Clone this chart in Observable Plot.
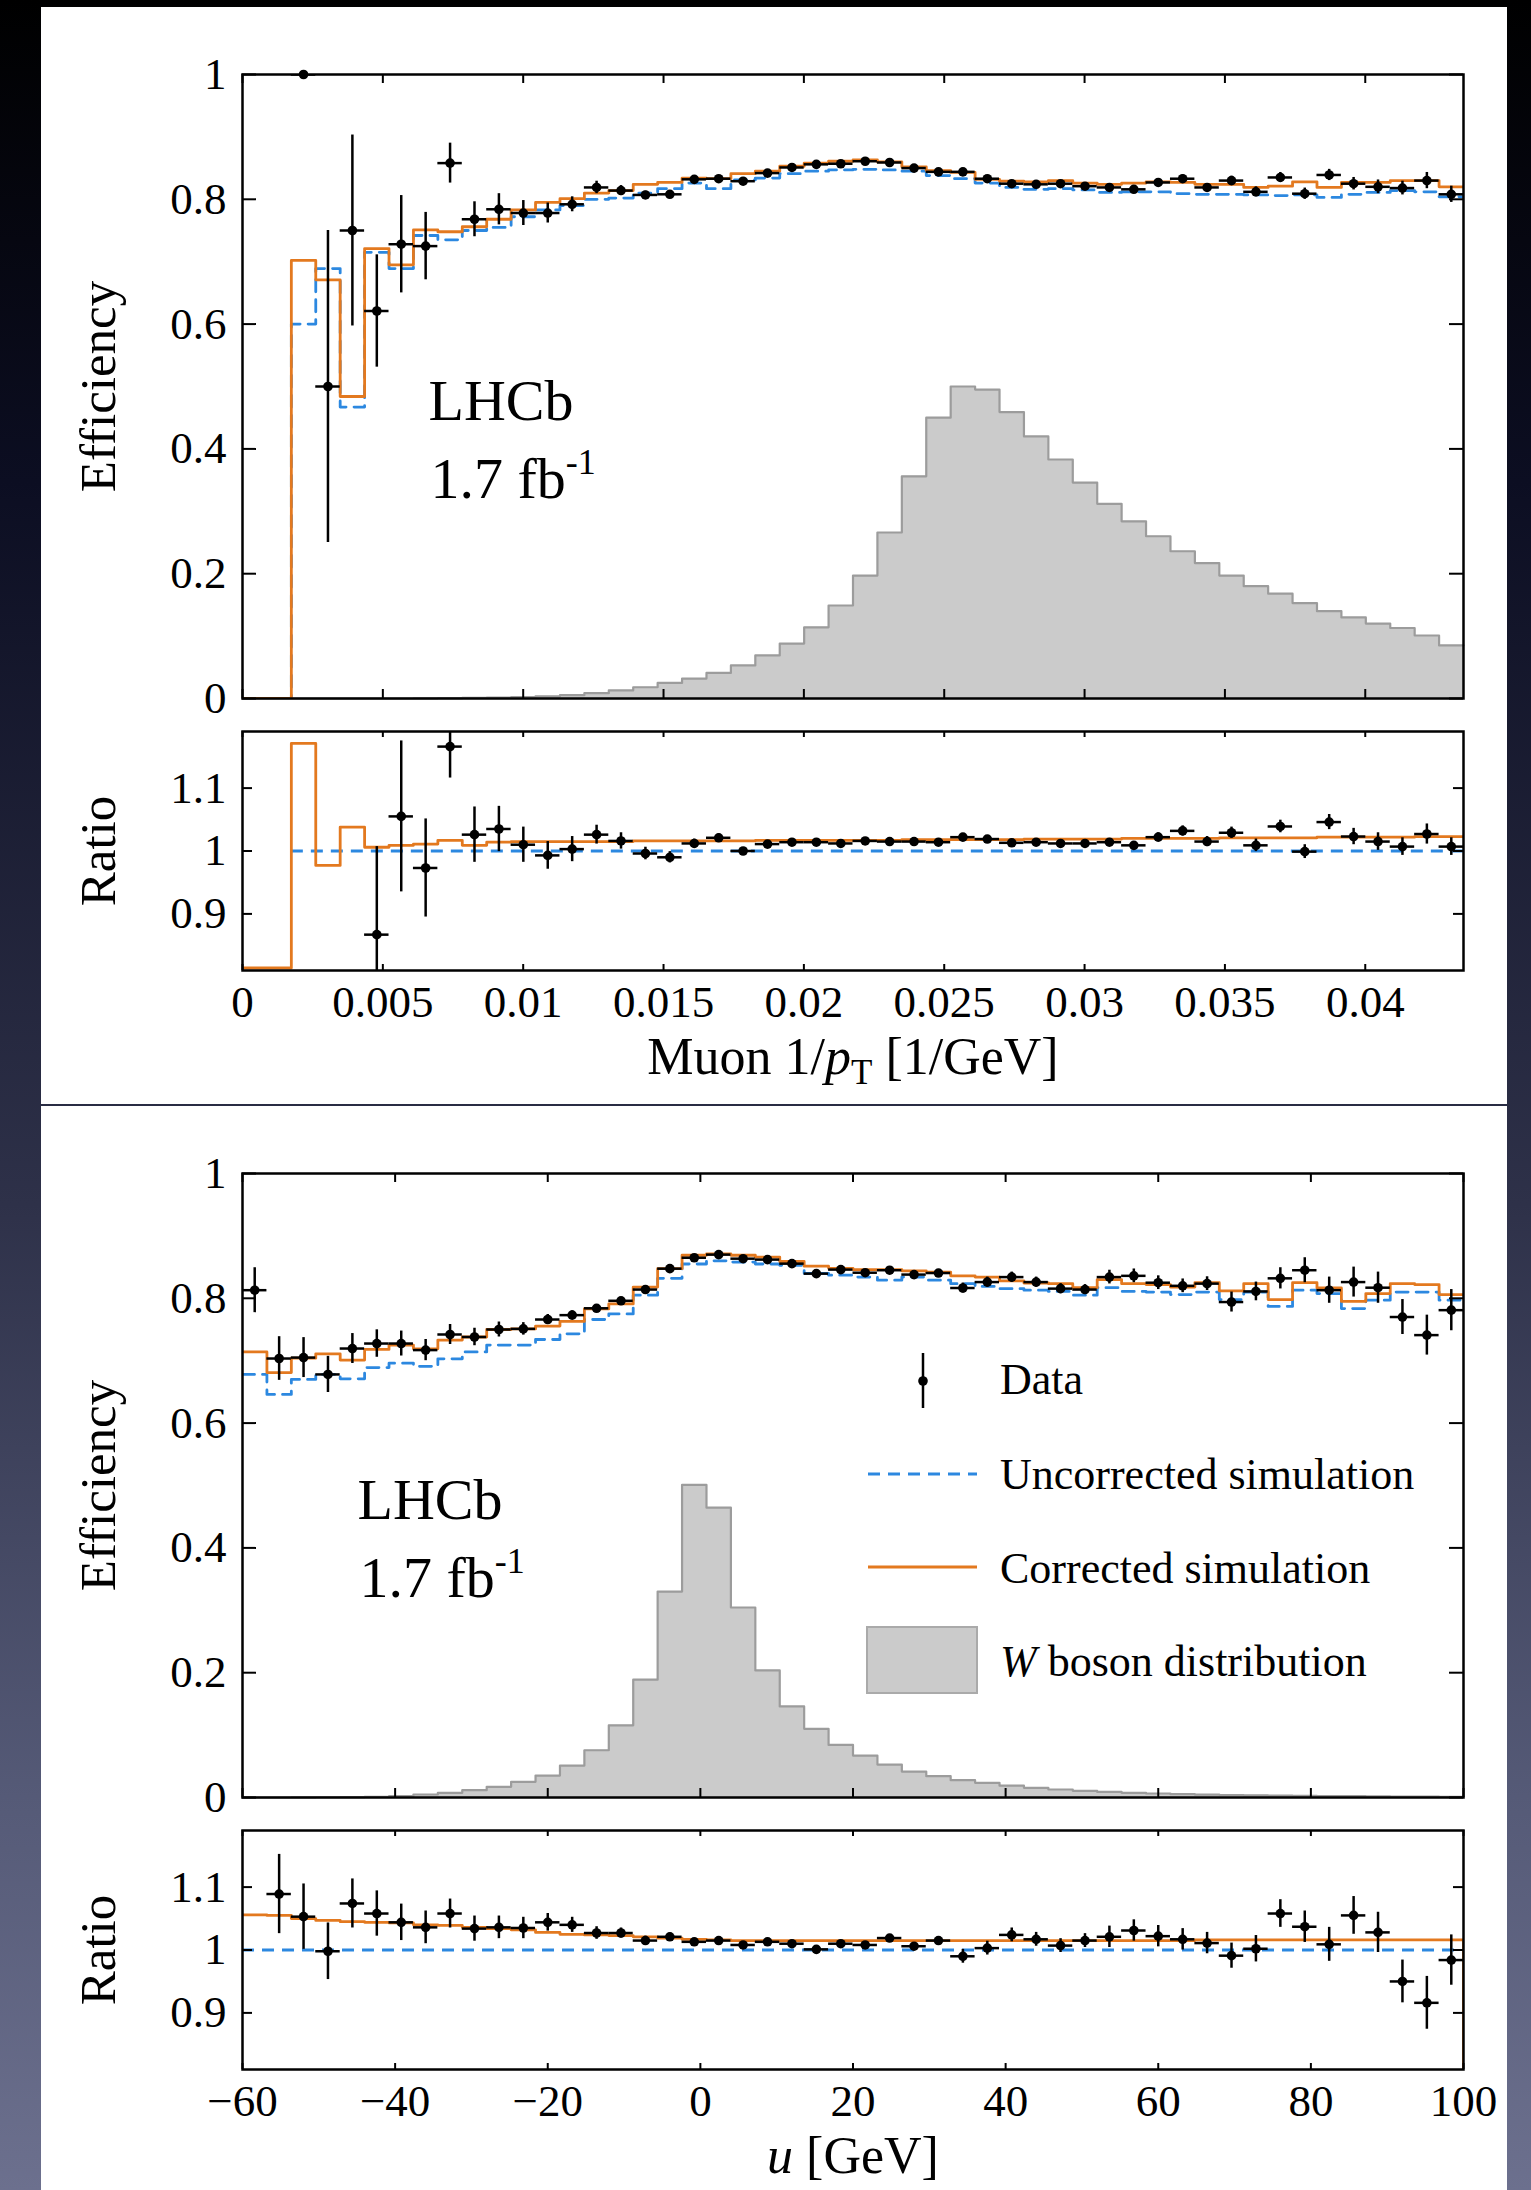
<!DOCTYPE html>
<html><head><meta charset="utf-8">
<script src="https://cdn.jsdelivr.net/npm/d3@7"></script>
<script src="https://cdn.jsdelivr.net/npm/@observablehq/plot@0.6"></script>
<style>
html,body{margin:0;padding:0;}
body{width:1531px;height:2190px;position:relative;overflow:hidden;
 background:linear-gradient(to bottom,#000000 0%,#0c0e22 22%,#2e3149 55%,#555a77 82%,#6c708e 100%);}
.panel{position:absolute;left:41px;width:1466px;background:#ffffff;}
.chart{position:absolute;left:0;}
</style></head><body>
<div class="panel" style="top:7px;height:1097px"></div>
<div class="panel" style="top:1106px;height:1084px"></div>
<script>
// ---------------- DATA ----------------
// Muon 1/pT panel: 50 bins from 0 to 0.0435 [1/GeV]
const muonEdges = [0,0.00087,0.00174,0.00261,0.00348,0.00435,0.00522,0.00609,0.00696,0.00783,0.0087,0.00957,0.01044,0.01131,0.01218,0.01305,0.01392,0.01479,0.01566,0.01653,0.0174,0.01827,0.01914,0.02001,0.02088,0.02175,0.02262,0.02349,0.02436,0.02523,0.0261,0.02697,0.02784,0.02871,0.02958,0.03045,0.03132,0.03219,0.03306,0.03393,0.0348,0.03567,0.03654,0.03741,0.03828,0.03915,0.04002,0.04089,0.04176,0.04263,0.0435];
const muonXTicks = [0,0.005,0.01,0.015,0.02,0.025,0.03,0.035,0.04];
const muonData = [null,null,1.0,0.50,0.75,0.621,0.728,0.725,0.858,0.768,0.784,0.778,0.778,0.792,0.819,0.814,0.807,0.808,0.832,0.833,0.829,0.842,0.851,0.856,0.857,0.861,0.859,0.850,0.844,0.844,0.833,0.825,0.824,0.825,0.821,0.819,0.816,0.827,0.833,0.819,0.830,0.812,0.835,0.809,0.839,0.825,0.820,0.818,0.830,0.808];
const muonDataErr = [0,0,0,0.25,0.153,0.09,0.078,0.054,0.032,0.028,0.025,0.02,0.016,0.012,0.01,0.008,0.006,0.005,0.004,0.004,0.003,0.003,0.003,0.003,0.003,0.003,0.003,0.003,0.003,0.003,0.003,0.003,0.003,0.003,0.003,0.003,0.003,0.005,0.006,0.006,0.007,0.008,0.008,0.009,0.009,0.01,0.011,0.011,0.013,0.013];
const muonUncorrected = [0,0,0.60,0.689,0.467,0.715,0.689,0.742,0.735,0.750,0.755,0.772,0.783,0.790,0.800,0.802,0.810,0.817,0.826,0.817,0.831,0.834,0.841,0.845,0.847,0.848,0.847,0.845,0.838,0.833,0.826,0.819,0.816,0.817,0.815,0.811,0.812,0.812,0.809,0.808,0.808,0.807,0.806,0.807,0.803,0.808,0.811,0.814,0.812,0.804];
const muonCorrected = [0,0,0.702,0.671,0.484,0.721,0.695,0.751,0.748,0.756,0.768,0.783,0.795,0.801,0.810,0.814,0.824,0.827,0.834,0.833,0.841,0.845,0.853,0.858,0.861,0.863,0.860,0.852,0.846,0.843,0.832,0.829,0.828,0.830,0.826,0.824,0.826,0.828,0.827,0.824,0.824,0.819,0.821,0.828,0.819,0.827,0.827,0.830,0.830,0.820];
const muonWdist = [0,0,0,0,0,0,0,0.0003,0.0006,0.001,0.0015,0.0022,0.0035,0.0053,0.0085,0.013,0.018,0.025,0.032,0.041,0.053,0.069,0.088,0.114,0.149,0.197,0.266,0.356,0.450,0.500,0.495,0.459,0.420,0.383,0.346,0.312,0.284,0.260,0.236,0.217,0.197,0.180,0.168,0.153,0.140,0.130,0.120,0.113,0.101,0.085];
const muonRatioData = [null,null,null,null,null,0.867,1.055,0.973,1.166,1.026,1.035,1.010,0.993,1.003,1.026,1.016,0.996,0.990,1.012,1.021,1.000,1.011,1.014,1.014,1.012,1.016,1.015,1.015,1.014,1.022,1.019,1.013,1.014,1.012,1.012,1.014,1.009,1.022,1.032,1.015,1.029,1.009,1.039,0.999,1.046,1.023,1.015,1.007,1.027,1.007];
const muonRatioErr = [0,0,0,0,0,0.14,0.12,0.078,0.05,0.044,0.036,0.028,0.022,0.02,0.015,0.013,0.01,0.009,0.007,0.006,0.005,0.004,0.004,0.004,0.004,0.004,0.004,0.004,0.004,0.004,0.004,0.004,0.004,0.004,0.004,0.004,0.004,0.007,0.008,0.008,0.009,0.01,0.01,0.011,0.012,0.013,0.014,0.014,0.016,0.014];
const muonRatioCorrected = [0.814,0.814,1.171,0.977,1.038,1.006,1.009,1.011,1.017,1.009,1.014,1.015,1.015,1.015,1.015,1.015,1.016,1.016,1.016,1.016,1.016,1.017,1.017,1.017,1.017,1.017,1.017,1.018,1.018,1.018,1.018,1.018,1.019,1.019,1.019,1.019,1.020,1.020,1.020,1.020,1.021,1.021,1.021,1.021,1.022,1.022,1.022,1.022,1.023,1.023];

// Hadronic recoil u panel: 50 bins from -60 to 100 GeV
const uEdges = [-60,-56.8,-53.6,-50.4,-47.2,-44,-40.8,-37.6,-34.4,-31.2,-28,-24.8,-21.6,-18.4,-15.2,-12,-8.8,-5.6,-2.4,0.8,4,7.2,10.4,13.6,16.8,20,23.2,26.4,29.6,32.8,36,39.2,42.4,45.6,48.8,52,55.2,58.4,61.6,64.8,68,71.2,74.4,77.6,80.8,84,87.2,90.4,93.6,96.8,100];
const uXTicks = [-60,-40,-20,0,20,40,60,80,100];
const uData = [0.813,0.7035,0.705,0.678,0.7195,0.7275,0.7275,0.717,0.742,0.738,0.750,0.751,0.766,0.773,0.784,0.796,0.814,0.8475,0.865,0.870,0.8635,0.862,0.8555,0.8395,0.846,0.841,0.845,0.838,0.8405,0.8165,0.826,0.834,0.826,0.8155,0.814,0.834,0.836,0.825,0.820,0.8235,0.794,0.811,0.832,0.845,0.813,0.826,0.817,0.770,0.741,0.781];
const uDataErr = [0.036,0.035,0.032,0.029,0.024,0.022,0.02,0.017,0.016,0.014,0.012,0.01,0.008,0.007,0.006,0.005,0.005,0.004,0.004,0.004,0.004,0.004,0.004,0.004,0.004,0.004,0.004,0.004,0.004,0.008,0.008,0.008,0.008,0.008,0.008,0.011,0.011,0.011,0.011,0.011,0.016,0.015,0.017,0.02,0.021,0.024,0.025,0.028,0.032,0.033];
const uUncorrected = [0.678,0.646,0.670,0.678,0.671,0.689,0.696,0.691,0.703,0.714,0.725,0.725,0.734,0.743,0.766,0.775,0.805,0.832,0.855,0.860,0.858,0.855,0.853,0.840,0.837,0.834,0.829,0.834,0.829,0.8235,0.819,0.8155,0.813,0.811,0.805,0.817,0.811,0.810,0.806,0.810,0.798,0.810,0.787,0.813,0.8075,0.7835,0.797,0.810,0.810,0.797];
const uCorrected = [0.714,0.681,0.704,0.711,0.701,0.718,0.725,0.719,0.733,0.738,0.750,0.751,0.7555,0.763,0.783,0.791,0.818,0.8475,0.869,0.871,0.869,0.866,0.859,0.8515,0.848,0.846,0.846,0.844,0.842,0.836,0.834,0.828,0.8245,0.8235,0.817,0.830,0.8235,0.822,0.818,0.825,0.812,0.8235,0.798,0.825,0.8165,0.795,0.8075,0.8235,0.822,0.806];
const uWdist = [0,0,0.0002,0.0004,0.0007,0.0012,0.0022,0.0048,0.0075,0.0117,0.0171,0.0251,0.0352,0.0512,0.0757,0.1157,0.1888,0.330,0.501,0.4645,0.3045,0.2037,0.146,0.110,0.0843,0.0672,0.0528,0.0416,0.0341,0.0277,0.0235,0.019,0.0155,0.0128,0.0107,0.009,0.0075,0.0064,0.0053,0.0045,0.004,0.0035,0.003,0.0027,0.0024,0.0021,0.0018,0.0015,0.0013,0.0011];
const uRatioData = [null,1.089,1.053,0.998,1.074,1.058,1.044,1.036,1.058,1.034,1.036,1.035,1.044,1.040,1.027,1.027,1.015,1.021,1.013,1.015,1.008,1.013,1.010,1.001,1.010,1.008,1.019,1.006,1.015,0.990,1.003,1.024,1.017,1.007,1.015,1.021,1.031,1.022,1.017,1.011,0.991,1.002,1.058,1.037,1.009,1.055,1.028,0.950,0.916,0.984];
const uRatioErr = [0,0.063,0.052,0.045,0.039,0.036,0.029,0.026,0.023,0.02,0.018,0.017,0.014,0.012,0.01,0.008,0.007,0.006,0.005,0.005,0.005,0.005,0.005,0.005,0.005,0.005,0.005,0.005,0.005,0.011,0.011,0.011,0.011,0.011,0.011,0.017,0.017,0.017,0.017,0.017,0.02,0.021,0.022,0.025,0.027,0.03,0.032,0.034,0.042,0.04];
const uRatioCorrected = [1.056,1.055,1.050,1.047,1.045,1.044,1.043,1.040,1.039,1.036,1.034,1.032,1.028,1.025,1.024,1.023,1.021,1.019,1.017,1.016,1.015,1.015,1.015,1.015,1.015,1.015,1.015,1.015,1.015,1.015,1.015,1.015,1.015,1.015,1.015,1.015,1.015,1.015,1.015,1.016,1.016,1.016,1.016,1.016,1.016,1.016,1.016,1.016,1.016,1.016];

const effYTicks = [0,0.2,0.4,0.6,0.8,1];
const ratioYTicks = [0.9,1,1.1];
const legendLabels = ["Data","Uncorrected simulation","Corrected simulation","W boson distribution"];

// ---------------- STYLE ----------------
const FONT = "'Liberation Serif','Times New Roman',Times,serif";
const ORANGE = "#e3791f", BLUE = "#2c88e0", GREY_FILL = "#cbcbcb", GREY_LINE = "#9c9c9c";
const W = 1531, ML = 242, MR = 68, PW = 1221;
const EFF_H = 750, EFF_MT = 64, EFF_MB = 62, EFF_FH = 624;
const RAT_MT = 11, RAT_FH = 239;
const TICK_FS = 45, TITLE_FS = 51;

const fmt = d => d < 0 ? "\u2212" + (-d) : String(d);
function binsOf(edges, vals, errs) {
  return vals.map((v, i) => ({lo: edges[i], hi: edges[i + 1], mid: (edges[i] + edges[i + 1]) / 2, v, e: errs ? errs[i] : 0}))
    .filter(d => d.v !== null && d.v !== undefined);
}
function stepOf(edges, vals, tail) {
  const pts = vals.map((v, i) => ({x: edges[i], y: v == null ? NaN : v}));
  pts.push({x: edges[edges.length - 1], y: vals[vals.length - 1]});
  if (tail !== undefined) pts.push({x: edges[edges.length - 1], y: tail});
  return pts;
}
function dataMarks(pts) {
  return [
    Plot.ruleY(pts, {y: "v", x1: "lo", x2: "hi", stroke: "black", strokeWidth: 2.5, clip: true}),
    Plot.ruleX(pts, {x: "mid", y1: d => d.v - d.e, y2: d => d.v + d.e, stroke: "black", strokeWidth: 2.5, clip: true}),
    Plot.dot(pts, {x: "mid", y: "v", r: 4.8, fill: "black", stroke: "none"})
  ];
}
function frameTicks(xD, yD, xTicks, yTicks, lenX, lenY, fh) {
  const kx = (xD[1] - xD[0]) / PW * lenY;
  const ky = (yD[1] - yD[0]) / fh * lenX;
  const o = {stroke: "black", strokeWidth: 2};
  return [
    Plot.ruleY(yTicks, {y: d => d, x1: xD[0], x2: xD[0] + kx, ...o}),
    Plot.ruleY(yTicks, {y: d => d, x1: xD[1] - kx, x2: xD[1], ...o}),
    Plot.ruleX(xTicks, {x: d => d, y1: yD[0], y2: yD[0] + ky, ...o}),
    Plot.ruleX(xTicks, {x: d => d, y1: yD[1] - ky, y2: yD[1], ...o})
  ];
}
function rich(svg, plain, parts) {
  d3.select(svg).selectAll("text").filter(function () { return this.textContent === plain; }).each(function () {
    const t = d3.select(this); t.text(null);
    for (const p of parts) {
      const s = t.append("tspan").text(p.text);
      if (p.italic) s.attr("font-style", "italic");
      if (p.size) s.attr("font-size", p.size);
      if (p.dy) s.attr("dy", p.dy);
    }
  });
}
function place(svg, top) {
  const div = document.createElement("div");
  div.className = "chart"; div.style.top = top + "px";
  div.appendChild(svg); document.body.appendChild(div);
}
const svgStyle = w => ({fontFamily: FONT, fontSize: TICK_FS + "px", background: "transparent", overflow: "visible", maxWidth: "none", width: w + "px"});

function effPlot(c) {
  const yD = [0, 1];
  const svg = Plot.plot({
    width: W, height: EFF_H, marginLeft: ML, marginRight: MR, marginTop: EFF_MT, marginBottom: EFF_MB,
    x: {domain: c.xD, axis: null}, y: {domain: yD, axis: null},
    style: svgStyle(W),
    marks: [
      Plot.areaY(stepOf(c.edges, c.hist), {x: "x", y: "y", curve: "step-after", fill: GREY_FILL}),
      Plot.line(stepOf(c.edges, c.hist), {x: "x", y: "y", curve: "step-after", stroke: GREY_LINE, strokeWidth: 2.2}),
      Plot.line(stepOf(c.edges, c.blue), {x: "x", y: "y", curve: "step-after", stroke: BLUE, strokeWidth: 2.8, strokeDasharray: "12,8", clip: true}),
      Plot.line(stepOf(c.edges, c.orange), {x: "x", y: "y", curve: "step-after", stroke: ORANGE, strokeWidth: 2.8, clip: true}),
      ...dataMarks(binsOf(c.edges, c.data, c.err)),
      Plot.frame({stroke: "black", strokeWidth: 2.5}),
      ...frameTicks(c.xD, yD, c.xTicks, effYTicks, 9, 14, EFF_FH),
      Plot.axisY({ticks: effYTicks, tickSize: 0, tickPadding: 16, tickFormat: fmt, label: null, fontSize: TICK_FS}),
      Plot.text(["Efficiency"], {text: d => d, frameAnchor: "left", dx: -144, rotate: -90, textAnchor: "middle", lineAnchor: "middle", fontSize: TITLE_FS}),
      Plot.text(["LHCb"], {text: d => d, frameAnchor: "top-left", dx: c.lhcbDx, dy: 345, textAnchor: "start", lineAnchor: "bottom", fontSize: 58}),
      Plot.text(["1.7 fb-1"], {text: d => d, frameAnchor: "top-left", dx: c.lhcbDx + 2, dy: 423, textAnchor: "start", lineAnchor: "bottom", fontSize: 58})
    ]
  });
  rich(svg, "1.7 fb-1", [{text: "1.7 fb"}, {text: "-1", size: "36px", dy: "-24"}]);
  return svg;
}
function ratioPlot(c) {
  const yD = [0.81, 1.19];
  const h = c.height;
  const svg = Plot.plot({
    width: W, height: h, marginLeft: ML, marginRight: MR, marginTop: RAT_MT, marginBottom: h - RAT_MT - RAT_FH,
    x: {domain: c.xD, axis: null}, y: {domain: yD, axis: null},
    style: svgStyle(W),
    marks: [
      Plot.ruleY([1], {y: d => d, x1: c.edges[c.blueFrom], x2: c.xD[1], stroke: BLUE, strokeWidth: 2.8, strokeDasharray: "12,8"}),
      Plot.line(stepOf(c.edges, c.orange, c.tail), {x: "x", y: "y", curve: "step-after", stroke: ORANGE, strokeWidth: 2.8, clip: true}),
      ...dataMarks(binsOf(c.edges, c.data, c.err)),
      Plot.frame({stroke: "black", strokeWidth: 2.5}),
      ...frameTicks(c.xD, yD, c.xTicks, ratioYTicks, 6, 10, RAT_FH),
      Plot.axisY({ticks: ratioYTicks, tickSize: 0, tickPadding: 16, tickFormat: fmt, label: null, fontSize: TICK_FS}),
      Plot.axisX({ticks: c.xTicks, tickSize: 0, tickPadding: 15, tickFormat: fmt, label: null, fontSize: TICK_FS}),
      Plot.text(["Ratio"], {text: d => d, frameAnchor: "left", dx: -144, rotate: -90, textAnchor: "middle", lineAnchor: "middle", fontSize: TITLE_FS}),
      Plot.text([c.xLabel], {text: d => d, frameAnchor: "bottom", dy: 103, textAnchor: "middle", lineAnchor: "bottom", fontSize: 52})
    ]
  });
  return svg;
}

// ---------------- TOP PANEL (muon 1/pT) ----------------
const muonXD = [0, 0.0435];
const e1 = effPlot({xD: muonXD, edges: muonEdges, xTicks: muonXTicks, hist: muonWdist, blue: muonUncorrected, orange: muonCorrected, data: muonData, err: muonDataErr, lhcbDx: 186});
place(e1, 10);
const r1 = ratioPlot({xD: muonXD, edges: muonEdges, xTicks: muonXTicks, orange: muonRatioCorrected, data: muonRatioData, err: muonRatioErr, blueFrom: 2, xLabel: "Muon 1/pT [1/GeV]", height: 380});
rich(r1, "Muon 1/pT [1/GeV]", [{text: "Muon 1/"}, {text: "p", italic: true}, {text: "T", size: "35px", dy: "10"}, {text: " [1/GeV]", dy: "-10"}]);
place(r1, 720);

// ---------------- BOTTOM PANEL (u) ----------------
const uXD = [-60, 100];
const e2 = effPlot({xD: uXD, edges: uEdges, xTicks: uXTicks, hist: uWdist, blue: uUncorrected, orange: uCorrected, data: uData, err: uDataErr, lhcbDx: 115});
place(e2, 1109);
const r2 = ratioPlot({xD: uXD, edges: uEdges, xTicks: uXTicks, orange: uRatioCorrected, tail: 0.81, data: uRatioData, err: uRatioErr, blueFrom: 0, xLabel: "u [GeV]", height: 371});
rich(r2, "u [GeV]", [{text: "u", italic: true}, {text: " [GeV]"}]);
place(r2, 1819);

// ---------------- LEGEND (bottom panel) ----------------
const lg = d3.create("svg").attr("width", 650).attr("height", 370)
  .style("position", "absolute").style("left", "850px").style("top", "1340px")
  .style("font-family", FONT).style("font-size", "44px");
lg.append("line").attr("x1", 73).attr("x2", 73).attr("y1", 13).attr("y2", 68).attr("stroke", "black").attr("stroke-width", 2.5);
lg.append("circle").attr("cx", 73).attr("cy", 41).attr("r", 4.8).attr("fill", "black");
lg.append("line").attr("x1", 18).attr("x2", 127).attr("y1", 134).attr("y2", 134).attr("stroke", BLUE).attr("stroke-width", 2.8).attr("stroke-dasharray", "12,8");
lg.append("line").attr("x1", 18).attr("x2", 127).attr("y1", 227).attr("y2", 227).attr("stroke", ORANGE).attr("stroke-width", 2.8);
lg.append("rect").attr("x", 17).attr("y", 287).attr("width", 110).attr("height", 66).attr("fill", GREY_FILL).attr("stroke", "#aaaaaa").attr("stroke-width", 2);
const ly = [54, 149, 243, 336];
legendLabels.forEach((t, i) => {
  const el = lg.append("text").attr("x", 150).attr("y", ly[i]).attr("fill", "black");
  if (t.startsWith("W ")) {
    el.append("tspan").attr("font-style", "italic").text("W");
    el.append("tspan").text(t.slice(1));
  } else el.text(t);
});
document.body.appendChild(lg.node());
</script>
</body></html>
